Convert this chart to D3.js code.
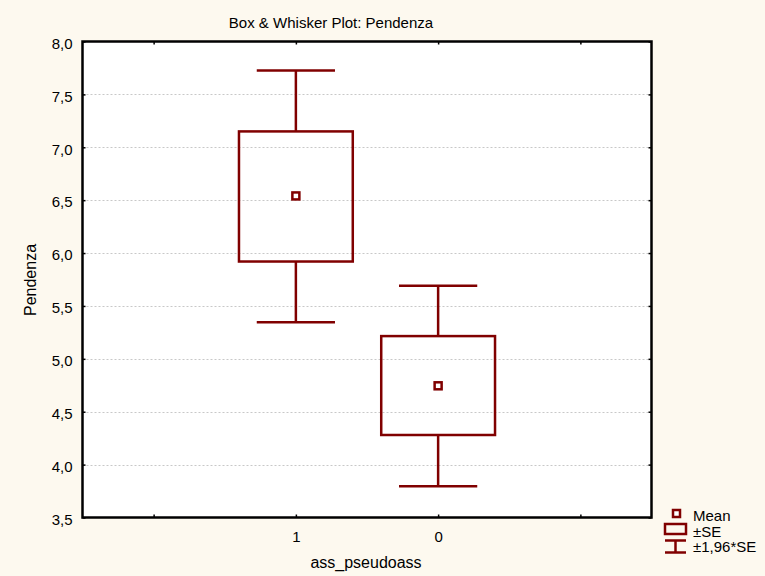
<!DOCTYPE html>
<html>
<head>
<meta charset="utf-8">
<script src="https://cdn.jsdelivr.net/npm/d3@7"></script>
<style>
  html, body { margin: 0; padding: 0; background: #fdf9ef; }
  svg { display: block; font-family: "Liberation Sans", Arial, sans-serif; }
</style>
</head>
<body>
<svg id="chart" width="765" height="576"></svg>
<script>
// Box & whisker summary of "Pendenza" by ass_pseudoass group
const slots = ["a", "1", "0", "b"];            // x slots; outer two are empty padding positions
const slotLabels = ["", "1", "0", ""];
const groups = ["1", "0"];
const means   = [6.54, 4.745];
const seLow   = [5.92, 4.28];
const seHigh  = [7.15, 5.215];
const ciLow   = [5.345, 3.795];
const ciHigh  = [7.725, 5.69];
const yTicks  = [3.5, 4.0, 4.5, 5.0, 5.5, 6.0, 6.5, 7.0, 7.5, 8.0];
const legendLabels = ["Mean", "±SE", "±1,96*SE"];

const W = 765, H = 576;
const plot = { left: 82.5, right: 651.5, top: 41.5, bottom: 517.5 };
const col = "#800000";

const svg = d3.select("#chart");

const x = d3.scalePoint().domain(slots).range([plot.left, plot.right]).padding(0.5);
const step = x.step();
const y = d3.scaleLinear().domain([3.5, 8.0]).range([plot.bottom, plot.top]);
const fmt = v => d3.format(".1f")(v).replace(".", ",");

// plot background
svg.append("rect")
  .attr("x", plot.left).attr("y", plot.top)
  .attr("width", plot.right - plot.left).attr("height", plot.bottom - plot.top)
  .attr("fill", "#ffffff");

// horizontal dotted grid
svg.append("g").selectAll("line")
  .data(yTicks.filter(v => v > 3.5 && v < 8.0))
  .join("line")
  .attr("x1", plot.left).attr("x2", plot.right)
  .attr("y1", d => Math.round(y(d)) + 0.5).attr("y2", d => Math.round(y(d)) + 0.5)
  .attr("stroke", "#c8c8c8").attr("stroke-width", 1)
  .attr("stroke-dasharray", "2,2");

// axes
const axisStyle = g => {
  g.select(".domain").remove();
  g.selectAll(".tick line").attr("stroke", "#000").attr("stroke-width", 1.5);
  g.selectAll(".tick text").attr("fill", "#000").attr("font-size", 15)
    .attr("font-family", "Liberation Sans, Arial, sans-serif");
};

svg.append("g").attr("transform", `translate(${plot.left},0)`)
  .call(d3.axisLeft(y).tickValues(yTicks).tickFormat(fmt).tickSize(-3).tickPadding(10))
  .call(axisStyle)
  .call(g => g.selectAll(".tick text").attr("dy", "0.45em"));
svg.append("g").attr("transform", `translate(${plot.right},0)`)
  .call(d3.axisRight(y).tickValues(yTicks).tickFormat("").tickSize(-3))
  .call(axisStyle);
svg.append("g").attr("transform", `translate(0,${plot.bottom})`)
  .call(d3.axisBottom(x).tickFormat((d, i) => slotLabels[i]).tickSize(-3).tickPadding(14))
  .call(axisStyle);
svg.append("g").attr("transform", `translate(0,${plot.top})`)
  .call(d3.axisTop(x).tickFormat("").tickSize(-3))
  .call(axisStyle);

// frame
svg.append("rect")
  .attr("x", plot.left).attr("y", plot.top)
  .attr("width", plot.right - plot.left).attr("height", plot.bottom - plot.top)
  .attr("fill", "none").attr("stroke", "#000").attr("stroke-width", 2.5);

// boxes and whiskers
const boxW = step * 0.8, capW = step * 0.55;
const gBox = svg.append("g").attr("stroke", col).attr("stroke-width", 2.5).attr("fill", "none");
groups.forEach((g, i) => {
  const cx = x(g);
  gBox.append("line").attr("x1", cx).attr("x2", cx).attr("y1", y(ciHigh[i])).attr("y2", y(seHigh[i]));
  gBox.append("line").attr("x1", cx).attr("x2", cx).attr("y1", y(seLow[i])).attr("y2", y(ciLow[i]));
  gBox.append("line").attr("x1", cx - capW / 2).attr("x2", cx + capW / 2).attr("y1", y(ciHigh[i])).attr("y2", y(ciHigh[i]));
  gBox.append("line").attr("x1", cx - capW / 2).attr("x2", cx + capW / 2).attr("y1", y(ciLow[i])).attr("y2", y(ciLow[i]));
  gBox.append("rect").attr("x", cx - boxW / 2).attr("y", y(seHigh[i]))
    .attr("width", boxW).attr("height", y(seLow[i]) - y(seHigh[i]));
  gBox.append("rect").attr("x", cx - 3.5).attr("y", y(means[i]) - 3.5)
    .attr("width", 7).attr("height", 7).attr("fill", "#fff");
});

// title and axis labels
svg.append("text").attr("x", 331).attr("y", 28).attr("text-anchor", "middle")
  .attr("font-size", 15).text("Box & Whisker Plot: Pendenza");
svg.append("text").attr("x", 366).attr("y", 568).attr("text-anchor", "middle")
  .attr("font-size", 16).text("ass_pseudoass");
svg.append("text").attr("transform", `translate(35.5,280) rotate(-90)`)
  .attr("text-anchor", "middle").attr("font-size", 16).text("Pendenza");

// legend
const lg = svg.append("g").attr("stroke", col).attr("stroke-width", 2.5).attr("fill", "none");
lg.append("rect").attr("x", 673).attr("y", 510).attr("width", 7).attr("height", 7).attr("fill", "#fff");
lg.append("rect").attr("x", 665).attr("y", 524).attr("width", 21).attr("height", 10);
lg.append("line").attr("x1", 665).attr("x2", 686).attr("y1", 540.5).attr("y2", 540.5);
lg.append("line").attr("x1", 665).attr("x2", 686).attr("y1", 552.5).attr("y2", 552.5);
lg.append("line").attr("x1", 675.5).attr("x2", 675.5).attr("y1", 540.5).attr("y2", 552.5);
svg.append("g").selectAll("text").data(legendLabels).join("text")
  .attr("x", 693).attr("y", (d, i) => 521 + i * 15.5)
  .attr("font-size", 15).text(d => d);
</script>
</body>
</html>
